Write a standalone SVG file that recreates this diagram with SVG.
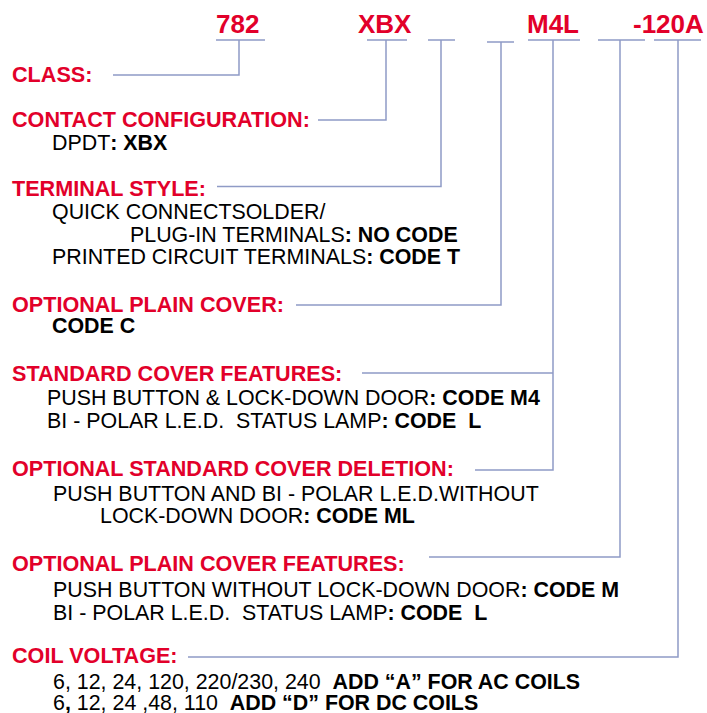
<svg xmlns="http://www.w3.org/2000/svg" width="707" height="713" viewBox="0 0 707 713">
<style>
text{font-family:"Liberation Sans",Arial,sans-serif;}
.code{font-size:26px;font-weight:bold;fill:#e2002a;}
.hd{font-size:21.6px;font-weight:bold;fill:#e2002a;}
.tx{font-size:21.4px;fill:#000;}
.b{font-weight:bold;}
.ln{fill:none;stroke:#8f9bc6;stroke-width:1.5;}
</style>
<rect width="707" height="713" fill="#fff"/>
<g id="part-number">
<text class="code" x="216" y="33">782</text>
<text class="code" x="358" y="33">XBX</text>
<text class="code" x="527" y="33">M4L</text>
<text class="code" x="633" y="33">-120A</text>
</g>
<g id="connectors">
<path class="ln" d="M216 40H265M367 40H407M428 40H455M487 42H514M528 40H580M598 40H645M654 40H701"/>
<path class="ln" d="M239 40V75H113"/>
<path class="ln" d="M386 40V120H318"/>
<path class="ln" d="M441 40V186.5H217"/>
<path class="ln" d="M501 42V305H296"/>
<path class="ln" d="M553 40V470H475M553 373H362"/>
<path class="ln" d="M620 40V557H429"/>
<path class="ln" d="M678 40V657H188"/>
</g>
<g id="class">
<text class="hd" x="12" y="82">CLASS:</text>
</g>
<g id="contact-configuration">
<text class="hd" x="12" y="127">CONTACT CONFIGURATION:</text>
<text class="tx" x="52" y="150">DPDT<tspan class="b">: XBX</tspan></text>
</g>
<g id="terminal-style">
<text class="hd" x="12" y="196">TERMINAL STYLE:</text>
<text class="tx" x="52" y="219">QUICK CONNECTSOLDER/</text>
<text class="tx" x="130" y="242">PLUG-IN TERMINALS<tspan class="b">: NO CODE</tspan></text>
<text class="tx" x="52" y="264">PRINTED CIRCUIT TERMINALS<tspan class="b">: CODE T</tspan></text>
</g>
<g id="optional-plain-cover">
<text class="hd" x="12" y="312">OPTIONAL PLAIN COVER:</text>
<text class="tx b" x="52" y="333">CODE C</text>
</g>
<g id="standard-cover-features">
<text class="hd" x="12" y="381">STANDARD COVER FEATURES:</text>
<text class="tx" x="47" y="405">PUSH BUTTON &amp; LOCK-DOWN DOOR<tspan class="b">: CODE M4</tspan></text>
<text class="tx" x="47" y="428" xml:space="preserve">BI - POLAR L.E.D.  STATUS LAMP<tspan class="b">: CODE  L</tspan></text>
</g>
<g id="optional-standard-cover-deletion">
<text class="hd" x="12" y="476">OPTIONAL STANDARD COVER DELETION:</text>
<text class="tx" x="53" y="501">PUSH BUTTON AND BI - POLAR L.E.D.WITHOUT</text>
<text class="tx" x="100" y="523">LOCK-DOWN DOOR<tspan class="b">: CODE ML</tspan></text>
</g>
<g id="optional-plain-cover-features">
<text class="hd" x="12" y="571">OPTIONAL PLAIN COVER FEATURES:</text>
<text class="tx" x="53" y="597">PUSH BUTTON WITHOUT LOCK-DOWN DOOR<tspan class="b">: CODE M</tspan></text>
<text class="tx" x="53" y="620" xml:space="preserve">BI - POLAR L.E.D.  STATUS LAMP<tspan class="b">: CODE  L</tspan></text>
</g>
<g id="coil-voltage">
<text class="hd" x="12" y="663">COIL VOLTAGE:</text>
<text class="tx" x="53" y="689" xml:space="preserve">6, 12, 24, 120, 220/230, 240  <tspan class="b">ADD “A” FOR AC COILS</tspan></text>
<text class="tx" x="53" y="710" xml:space="preserve">6<tspan class="b">,</tspan> 12, 24 ,48, 110  <tspan class="b">ADD “D” FOR DC COILS</tspan></text>
</g>
</svg>
